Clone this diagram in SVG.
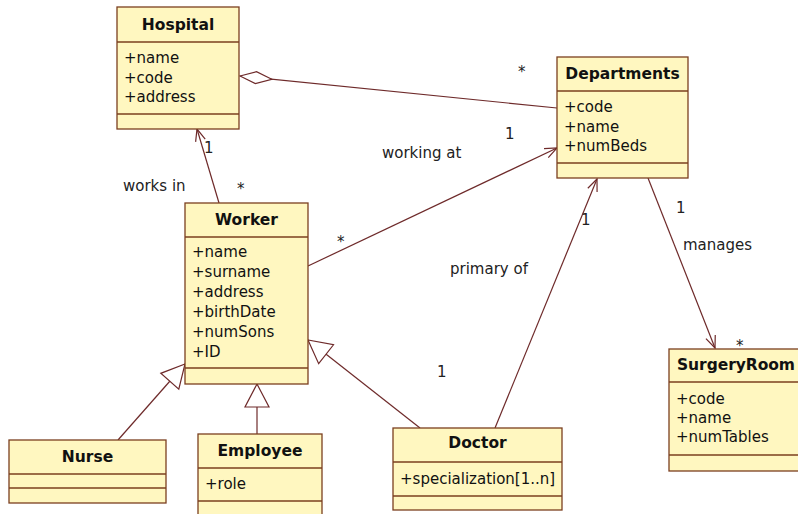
<svg xmlns="http://www.w3.org/2000/svg" width="798" height="514" viewBox="0 0 798 514">
  <style>
    .box { fill: #fff7c0; stroke: #7b3f1f; stroke-width: 1.3; }
    .sep { stroke: #7b3f1f; stroke-width: 1.3; }
    .title { font-family: "DejaVu Sans", Verdana, sans-serif; font-size: 15.5px; font-weight: bold; fill: #111; text-anchor: middle; }
    .attr { font-family: "DejaVu Sans", Verdana, sans-serif; font-size: 15px; fill: #111; }
    .lbl { font-family: "DejaVu Sans", Verdana, sans-serif; font-size: 15px; fill: #222; }
    .conn { fill: none; stroke: #6e2a2a; stroke-width: 1.2; }
  </style>
  <defs>
    <marker id="open" viewBox="-14 -8 16 16" refX="0" refY="0" markerWidth="16" markerHeight="16" markerUnits="userSpaceOnUse" orient="auto">
      <path d="M-12,-5 L0,0 L-12,5" fill="none" stroke="#6e2a2a" stroke-width="1.2"/>
    </marker>
    <marker id="gen" viewBox="-26 -14 28 28" refX="0" refY="0" markerWidth="28" markerHeight="28" markerUnits="userSpaceOnUse" orient="auto">
      <path d="M0,0 L-23,-12 L-23,12 Z" fill="#fff" stroke="#6e2a2a" stroke-width="1.2"/>
    </marker>
    <marker id="agg" viewBox="-2 -8 36 16" refX="0" refY="0" markerWidth="36" markerHeight="16" markerUnits="userSpaceOnUse" orient="auto">
      <path d="M0,0 L16,-6 L32,0 L16,6 Z" fill="#fff" stroke="#6e2a2a" stroke-width="1.2"/>
    </marker>
  </defs>

  <rect width="798" height="514" fill="#fff"/>

  <!-- associations and generalizations -->
  <g id="connectors">
    <path class="conn" d="M240,76 L557,108" marker-start="url(#agg)"/>
    <path class="conn" d="M219,203 L197,129" marker-end="url(#open)"/>
    <path class="conn" d="M308,266 L557,148" marker-end="url(#open)"/>
    <path class="conn" d="M495,428 L597,179" marker-end="url(#open)"/>
    <path class="conn" d="M648,178 L715,348" marker-end="url(#open)"/>
    <path class="conn" d="M118,440 L185,364" marker-end="url(#gen)"/>
    <path class="conn" d="M257,434 L257,384" marker-end="url(#gen)"/>
    <path class="conn" d="M420,428 L308,340" marker-end="url(#gen)"/>

    <text class="lbl" x="518" y="77">*</text>
    <text class="lbl" x="204" y="153">1</text>
    <text class="lbl" x="237" y="194">*</text>
    <text class="lbl" x="123" y="191">works in</text>
    <text class="lbl" x="337" y="247">*</text>
    <text class="lbl" x="505" y="139">1</text>
    <text class="lbl" x="382" y="158">working at</text>
    <text class="lbl" x="581" y="225">1</text>
    <text class="lbl" x="437" y="377">1</text>
    <text class="lbl" x="450" y="274">primary of</text>
    <text class="lbl" x="676" y="213">1</text>
    <text class="lbl" x="683" y="250">manages</text>
    <text class="lbl" x="736" y="351">*</text>
  </g>

  <g id="hospital">
    <rect class="box" x="117" y="7" width="122" height="122"/>
    <line class="sep" x1="117" y1="42" x2="239" y2="42"/>
    <line class="sep" x1="117" y1="114" x2="239" y2="114"/>
    <text class="title" x="178" y="30">Hospital</text>
    <text class="attr" x="124" y="63">+name</text>
    <text class="attr" x="124" y="82.5">+code</text>
    <text class="attr" x="124" y="102">+address</text>
  </g>

  <g id="departments">
    <rect class="box" x="557" y="57" width="131" height="121"/>
    <line class="sep" x1="557" y1="91" x2="688" y2="91"/>
    <line class="sep" x1="557" y1="163" x2="688" y2="163"/>
    <text class="title" x="622.5" y="79">Departments</text>
    <text class="attr" x="564" y="112">+code</text>
    <text class="attr" x="564" y="132">+name</text>
    <text class="attr" x="564" y="151">+numBeds</text>
  </g>

  <g id="worker">
    <rect class="box" x="185" y="203" width="123" height="181"/>
    <line class="sep" x1="185" y1="237" x2="308" y2="237"/>
    <line class="sep" x1="185" y1="368" x2="308" y2="368"/>
    <text class="title" x="246.5" y="225">Worker</text>
    <text class="attr" x="192" y="257">+name</text>
    <text class="attr" x="192" y="277">+surname</text>
    <text class="attr" x="192" y="297">+address</text>
    <text class="attr" x="192" y="317">+birthDate</text>
    <text class="attr" x="192" y="337">+numSons</text>
    <text class="attr" x="192" y="357">+ID</text>
  </g>

  <g id="nurse">
    <rect class="box" x="9" y="440" width="157" height="63"/>
    <line class="sep" x1="9" y1="474" x2="166" y2="474"/>
    <line class="sep" x1="9" y1="488" x2="166" y2="488"/>
    <text class="title" x="87.5" y="462">Nurse</text>
  </g>

  <g id="employee">
    <rect class="box" x="198" y="434" width="124" height="90"/>
    <line class="sep" x1="198" y1="468" x2="322" y2="468"/>
    <line class="sep" x1="198" y1="501" x2="322" y2="501"/>
    <text class="title" x="260" y="456">Employee</text>
    <text class="attr" x="205" y="489">+role</text>
  </g>

  <g id="doctor">
    <rect class="box" x="393" y="428" width="169" height="82"/>
    <line class="sep" x1="393" y1="462" x2="562" y2="462"/>
    <line class="sep" x1="393" y1="496" x2="562" y2="496"/>
    <text class="title" x="477.5" y="448">Doctor</text>
    <text class="attr" x="400" y="484">+specialization[1..n]</text>
  </g>

  <!-- box runs off the right edge of the canvas -->
  <g id="surgeryroom">
    <rect class="box" x="669" y="349" width="140" height="122"/>
    <line class="sep" x1="669" y1="382" x2="809" y2="382"/>
    <line class="sep" x1="669" y1="455" x2="809" y2="455"/>
    <text class="title" x="677" y="370" style="text-anchor:start" textLength="118">SurgeryRoom</text>
    <text class="attr" x="676" y="404">+code</text>
    <text class="attr" x="676" y="423">+name</text>
    <text class="attr" x="676" y="442">+numTables</text>
  </g>
</svg>
